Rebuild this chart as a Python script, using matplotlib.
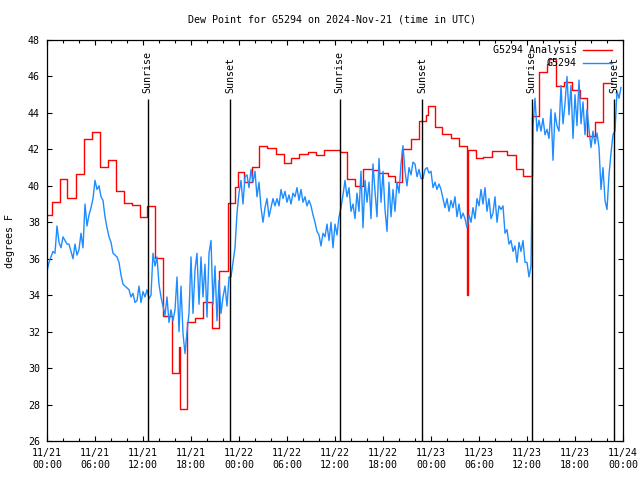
import numpy as np
import matplotlib
matplotlib.use('Agg')
import matplotlib.pyplot as plt
import matplotlib.dates as mdates

START = np.datetime64('2024-11-21T00:00')

# Analysis series: hour (after start) at which each step level begins, and its value (deg F)
red_hours = [0, 0.59, 1.63, 2.5, 3.59, 4.59, 5.59, 6.6, 7.67, 8.64, 9.64, 10.6, 11.6,
             12.55, 13.55, 14.56, 15.61, 16.56, 16.68, 17.56, 18.56, 19.56, 20.61, 21.56,
             22.62, 23.53, 23.82, 24.57, 25.62, 26.45, 27.5, 28.57, 29.57, 30.5, 31.54,
             32.58, 33.58, 34.63, 36.63, 37.51, 38.55, 39.51, 40.59, 41.55, 42.59, 43.55,
             44.39, 45.56, 46.47, 47.43, 47.65, 48.44, 49.4, 50.44, 51.48, 52.53, 52.6,
             53.57, 54.53, 55.57, 57.53, 58.57, 59.54, 60.58, 61.49, 62.54, 62.74, 63.58,
             64.62, 65.58, 66.58, 67.46, 68.5, 69.5, 70.59]
red_vals = [38.38, 39.11, 40.36, 39.31, 40.65, 42.55, 42.93, 41.01, 41.40, 39.72, 39.06,
            38.93, 38.27, 38.87, 36.04, 32.86, 29.71, 31.17, 27.76, 32.55, 32.73, 33.61,
            32.18, 35.34, 39.04, 39.95, 40.74, 40.19, 41.05, 42.20, 42.06, 41.73, 41.23,
            41.51, 41.73, 41.84, 41.67, 41.95, 41.84, 40.36, 39.97, 40.90, 40.85, 40.69,
            40.56, 40.19, 42.02, 42.55, 43.56, 43.88, 44.40, 43.24, 42.84, 42.64, 42.18,
            34.0, 41.96, 41.51, 41.60, 41.89, 41.67, 40.90, 40.54, 43.85, 46.26, 46.67,
            46.94, 45.48, 45.68, 45.26, 44.80, 42.73, 43.50, 45.62, 45.62]

# Station observations, one value every 15 minutes from the start
blue_vals = [
    35.3, 35.8, 36.1, 36.4,  36.3, 37.8, 36.9, 36.6,  37.2, 37.0, 36.8, 36.8,
    36.4, 36.0, 36.8, 36.2,  36.5, 37.4, 36.6, 39.0,  37.8, 38.4, 38.8, 39.3,
    40.3, 39.8, 40.0, 39.4,  39.2, 38.3, 37.7, 37.2,  36.9, 36.3, 36.2, 36.1,
    35.8, 35.1, 34.6, 34.5,  34.4, 34.3, 33.9, 34.1,  33.6, 33.7, 34.5, 33.6,
    34.2, 33.9, 34.3, 33.8,  34.0, 36.3, 35.6, 36.1,  34.6, 33.9, 33.4, 32.9,
    33.9, 32.5, 33.2, 32.6,  33.2, 35.0, 32.0, 34.5,  31.9, 30.8, 32.0, 33.0,
    36.1, 33.0, 35.4, 36.3,  33.5, 36.1, 33.9, 35.7,  32.8, 36.3, 37.0, 33.5,
    35.6, 32.6, 34.8, 33.0,  33.9, 34.5, 33.4, 35.0,  35.0, 35.8, 36.6, 38.5,
    39.6, 40.3, 39.0, 40.5,  40.6, 39.9, 40.9, 40.2,  40.8, 39.4, 40.2, 38.8,
    38.0, 38.8, 39.3, 38.3,  38.8, 39.3, 38.9, 39.3,  38.9, 39.8, 39.3, 39.7,
    39.1, 39.5, 39.0, 39.6,  39.4, 39.9, 39.2, 39.8,  39.1, 39.4, 38.9, 39.2,
    38.9, 38.4, 38.0, 37.5,  37.3, 36.7, 37.4, 37.2,  37.9, 37.0, 38.0, 36.6,
    37.9, 37.3, 38.3, 38.8,  39.5, 40.3, 39.4, 39.9,  38.6, 39.0, 38.2, 39.6,
    38.6, 40.8, 37.7, 40.3,  39.1, 40.2, 38.2, 41.2,  39.7, 38.3, 41.5, 39.1,
    40.8, 38.7, 37.5, 40.2,  38.3, 39.8, 38.6, 40.2,  39.6, 41.2, 42.2, 40.8,
    40.0, 41.0, 40.6, 41.3,  41.2, 40.5, 40.9, 40.4,  40.4, 40.9, 41.0, 40.7,
    40.8, 39.9, 40.2, 39.8,  40.1, 39.8, 39.3, 38.8,  39.3, 38.6, 39.2, 38.8,
    39.4, 38.3, 39.0, 38.2,  38.5, 38.2, 37.7, 38.4,  38.0, 38.8, 38.2, 39.3,
    38.9, 39.8, 39.0, 39.9,  38.6, 39.3, 38.2, 38.5,  39.4, 38.0, 38.9, 38.7,
    38.9, 37.4, 37.6, 36.8,  37.0, 36.4, 36.7, 35.8,  36.9, 36.4, 37.0, 35.8,
    35.8, 35.0, 35.6, 43.3,  44.8, 43.0, 43.6, 43.0,  43.7, 42.8, 43.1, 42.6,
    44.2, 41.4, 44.0, 43.3,  43.0, 45.5, 43.4, 44.5,  46.0, 43.9, 45.5, 42.6,
    45.0, 43.3, 45.8, 43.4,  44.6, 42.8, 44.2, 43.1,  42.1, 43.0, 42.3, 42.9,
    42.1, 39.8, 41.0, 39.2,  38.7, 40.6, 41.8, 42.8,  43.0, 45.2, 44.8, 45.4,
]

sunrise_times = ['2024-11-21T12:34', '2024-11-22T12:35', '2024-11-23T12:36']
sunset_times = ['2024-11-21T22:55', '2024-11-22T22:52', '2024-11-23T22:54']

FONT = 'DejaVu Sans Mono'
FS = 7.2
plt.rcParams['font.family'] = FONT
plt.rcParams['font.size'] = FS

red_t = START + (np.array(red_hours) * 3600).astype('timedelta64[s]')
blue_t = START + np.arange(len(blue_vals)) * np.timedelta64(15, 'm')

fig = plt.figure(figsize=(6.4, 4.8), dpi=100)
ax = fig.add_axes([47/640, 39/480, 576/640, 401/480])

ax.plot(red_t, red_vals, drawstyle='steps-post', color='#ff0000', lw=1.0, label='G5294 Analysis')
ax.plot(blue_t, blue_vals, color='#1e8cff', lw=1.0, label='G5294')

# sunrise / sunset markers
for name, times in (('Sunrise', sunrise_times), ('Sunset', sunset_times)):
    for s in times:
        t = np.datetime64(s)
        ax.vlines(t, 26, 44.75, color='black', lw=1.0, zorder=5)
        ax.text(t, 45.1, name, rotation=90, ha='center', va='bottom', fontsize=FS, zorder=6)

ax.set_xlim(START, START + np.timedelta64(72, 'h'))
ax.set_ylim(26, 48)
ax.set_yticks(np.arange(26, 49, 2))

ax.xaxis.set_major_locator(mdates.HourLocator(byhour=[0, 6, 12, 18]))
ax.xaxis.set_minor_locator(mdates.HourLocator(byhour=range(0, 24, 2)))
ax.xaxis.set_major_formatter(mdates.DateFormatter('%m/%d\n%H:%M'))

ax.tick_params(which='both', direction='in', top=True, right=True, labelsize=FS)
ax.tick_params(which='major', length=3.5, width=0.8, pad=5)
ax.tick_params(which='minor', length=2, width=0.8)
for lab in ax.get_xticklabels():
    lab.set_linespacing(1.2)

ax.set_ylabel('degrees F', fontsize=FS)
ax.yaxis.set_label_coords(-0.055, 0.5)

fig.text(332/640, 1 - 19/480, 'Dew Point for G5294 on 2024-Nov-21 (time in UTC)',
         ha='center', va='center', fontsize=FS)

# legend drawn by hand: right-aligned labels, line sample on the right
for i, ln in enumerate(ax.get_lines()[:2]):
    yy = 0.975 - i * 0.032
    ax.text(0.920, yy, ln.get_label(), transform=ax.transAxes, ha='right', va='center',
            fontsize=FS, zorder=7)
    ax.plot([0.931, 0.981], [yy, yy], transform=ax.transAxes, color=ln.get_color(),
            lw=1.0, zorder=7)

for sp in ax.spines.values():
    sp.set_linewidth(0.9)

fig.savefig('out.png', dpi=100)
